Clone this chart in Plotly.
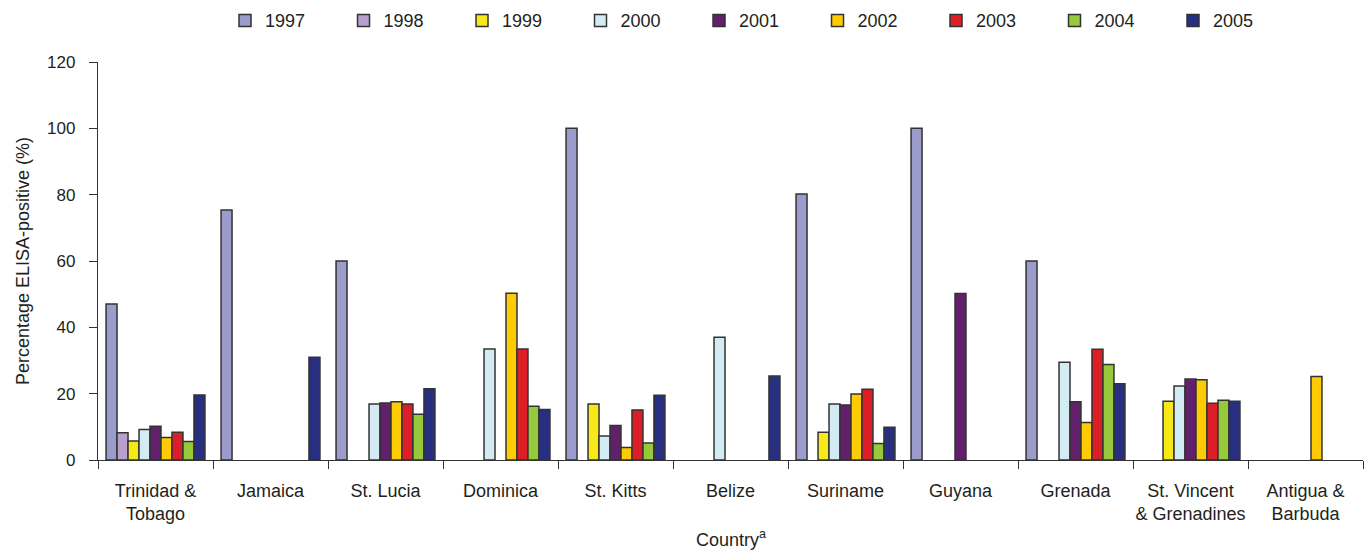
import plotly.graph_objects as go

countries = ["Trinidad &<br>Tobago", "Jamaica", "St. Lucia", "Dominica", "St. Kitts", "Belize",
             "Suriname", "Guyana", "Grenada", "St. Vincent<br>& Grenadines", "Antigua &<br>Barbuda"]
years = ["1997", "1998", "1999", "2000", "2001", "2002", "2003", "2004", "2005"]

v1997 = [47, 75.4, 60, None, 100, None, 80.2, 100, 60, None, None]
v1998 = [8.2, None, None, None, None, None, None, None, None, None, None]
v1999 = [5.7, None, None, None, 16.9, None, 8.4, None, None, 17.7, None]
v2000 = [9.2, None, 16.9, 33.5, 7.2, 37, 16.9, None, 29.5, 22.3, None]
v2001 = [10.2, None, 17.2, None, 10.4, None, 16.6, 50.2, 17.6, 24.4, None]
v2002 = [6.8, None, 17.6, 50.3, 3.8, None, 19.9, None, 11.3, 24.2, 25.2]
v2003 = [8.4, None, 16.9, 33.5, 15.1, None, 21.3, None, 33.4, 17.1, None]
v2004 = [5.6, None, 13.8, 16.2, 5.1, None, 5.0, None, 28.8, 18.0, None]
v2005 = [19.6, 31, 21.5, 15.2, 19.5, 25.3, 9.9, None, 23.0, 17.7, None]

series = [v1997, v1998, v1999, v2000, v2001, v2002, v2003, v2004, v2005]
colors = ["#9b9bcc", "#b99fcd", "#f7e817", "#d3ecf3", "#62206a", "#ffcb05",
          "#dc1f26", "#97c93c", "#292f80"]

FONT = "Liberation Sans, Arial, sans-serif"
TXT = "#231f20"

fig = go.Figure()
for yr, vals, col in zip(years, series, colors):
    fig.add_trace(go.Bar(
        name=yr, x=countries, y=vals,
        marker=dict(color=col, line=dict(color="#333333", width=1.5)),
    ))

fig.update_layout(
    barmode="group",
    bargap=0.14,
    bargroupgap=0,
    width=1372, height=550,
    margin=dict(l=98, r=9, t=62, b=90, autoexpand=False),
    plot_bgcolor="white", paper_bgcolor="white",
    font=dict(family=FONT, size=18, color=TXT),
    showlegend=True,
    legend=dict(
        orientation="h", xref="container", yref="container",
        x=0.164, xanchor="left", y=0.996, yanchor="top",
        font=dict(size=18, color=TXT),
        entrywidth=73.5, entrywidthmode="pixels",
        traceorder="normal",
    ),
    xaxis=dict(
        showline=True, linecolor="#333333", linewidth=1.3, automargin=False,
        ticks="outside", tickson="boundaries", ticklen=8, tickcolor="#333333",
        showgrid=False, tickfont=dict(size=18, color=TXT), tickangle=0,
        ticklabelstandoff=14,
    ),
    yaxis=dict(
        range=[0, 120], dtick=20, showline=True, linecolor="#333333", linewidth=1.3,
        automargin=False,
        ticks="outside", ticklen=8, tickcolor="#333333", showgrid=False, zeroline=False,
        tickfont=dict(size=17, color=TXT), ticklabelstandoff=10,
        title=dict(text="Percentage ELISA-positive (%)", font=dict(size=18, color=TXT), standoff=12),
    ),
    annotations=[dict(
        text="Country<sup>a</sup>", xref="paper", yref="paper", x=0.5, y=-0.196,
        xanchor="center", yanchor="middle", showarrow=False, font=dict(size=18, color=TXT),
    )],
)

fig.write_html("out.html", config={"displayModeBar": False},
               post_script="document.body.style.margin='0px';")
